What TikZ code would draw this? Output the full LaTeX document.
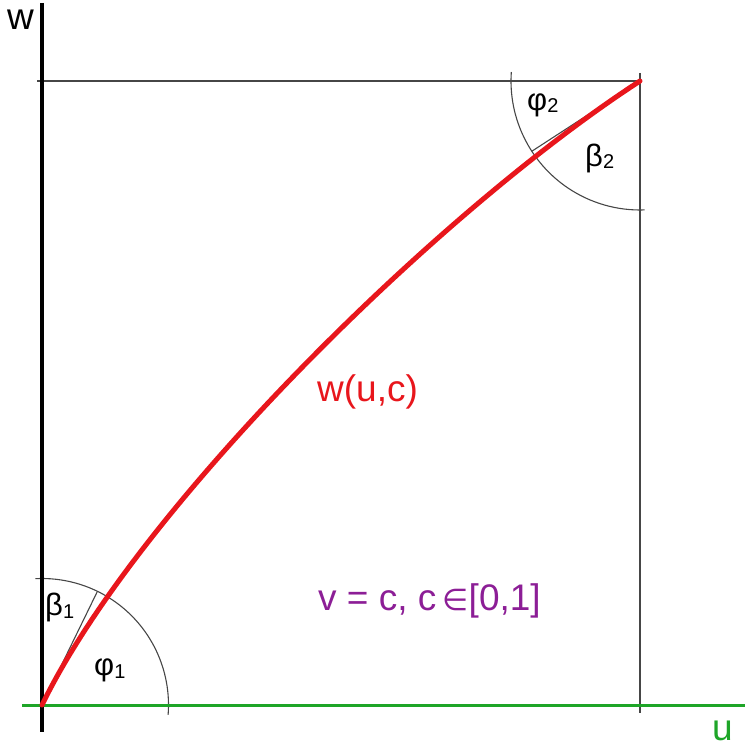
\documentclass[tikz,border=0pt]{standalone}
\usepackage{fontspec}
\setmainfont{Liberation Sans}
\newfontfamily\dejavu{DejaVu Sans}
\definecolor{curvered}{RGB}{232,22,28}
\definecolor{axisgreen}{RGB}{30,165,40}
\definecolor{labelpurple}{RGB}{140,30,150}
\definecolor{thingray}{RGB}{70,70,70}
\tikzset{
  thin line/.style={draw=thingray, line width=1.1pt},
  big label/.style={anchor=base west, inner sep=0pt, font=\fontsize{37}{40}\selectfont},
  axis label/.style={big label, text height=20pt, text depth=0pt},
  greek label/.style={anchor=base west, inner sep=0pt, font=\fontsize{31}{34}\selectfont},
}
\newcommand{\subsc}[1]{\raisebox{-2.5pt}{\fontsize{20}{22}\selectfont #1}}
\begin{document}
\begin{tikzpicture}[x=1pt,y=1pt]
\useasboundingbox (0,0) rectangle (750,748);
\coordinate (O) at (42,43);
\coordinate (P) at (640,667);
% frame lines
\draw[thin line] (37,667) -- (642,667);
\draw[thin line] (640,675) -- (640,35);
% arcs
\draw[thin line] ([shift={(-4.5:126.5)}]O) arc[start angle=-4.5, end angle=93, radius=126.5];
\draw[thin line] ([shift={(176:129)}]P) arc[start angle=176, end angle=272, radius=129];
% tangent lines
\coordinate (T1) at ([shift={(64:126.5)}]O);
\coordinate (T2) at ([shift={(213:129)}]P);
\draw[thin line] (O) -- (T1);
\draw[thin line] (P) -- (T2);
% axes
\draw[axisgreen, line width=3pt] (22,43) -- (745,43);
\draw[black, line width=4pt] (42,745) -- (42,16);
% curve
\draw[curvered, line width=5pt, line cap=round] (O) .. controls (138.4,240.8) and (438.6,536.2) .. (P);
% labels
\node[axis label] (lw) at (7,718) {w};
\node[axis label, text=axisgreen] (lu) at (712,8) {u};
\node[big label, text=curvered] (lwuc) at (317,346) {w(u,c)};
\node[big label, text=labelpurple] (lv) at (318,138) {v = c, c\,{\dejavu\fontsize{30}{32}\selectfont ∈}[0,1]};
\node[greek label] (b1) at (45,132.5) {β\subsc{1}};
\node[greek label] (p1) at (94,72.5) {φ\subsc{1}};
\node[greek label] (p2) at (527,637.5) {φ\subsc{2}};
\node[greek label] (b2) at (585,581.5) {β\subsc{2}};
\end{tikzpicture}
\end{document}
